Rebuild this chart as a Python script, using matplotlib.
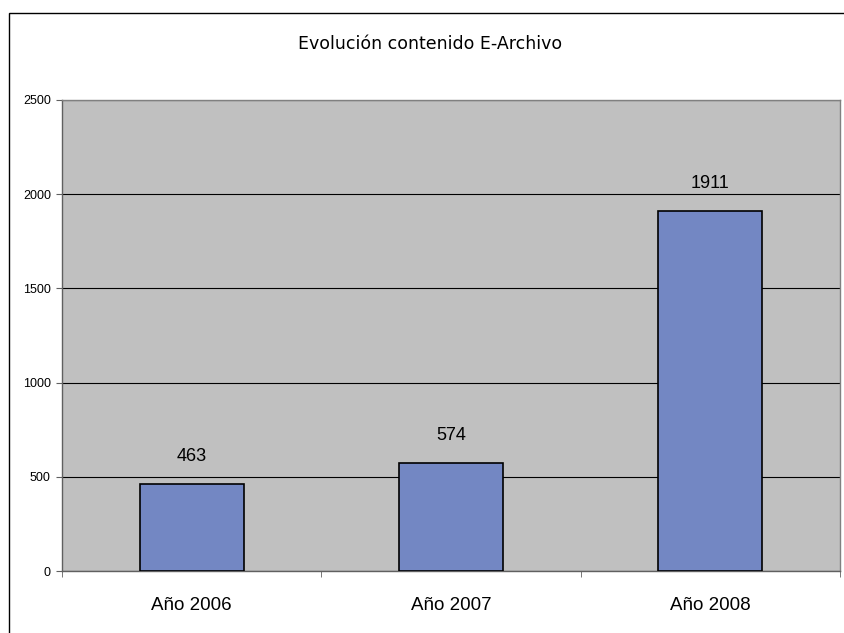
import matplotlib
matplotlib.use("Agg")
import matplotlib.pyplot as plt
from matplotlib.patches import Rectangle

categories = ["Año 2006", "Año 2007", "Año 2008"]
values = [463, 574, 1911]
yticks = [0, 500, 1000, 1500, 2000, 2500]
title = "Evolución contenido E-Archivo"

plt.rcParams['font.family'] = ['Liberation Sans', 'DejaVu Sans']

W, H = 845, 633
fig = plt.figure(figsize=(W/100, H/100), dpi=100)
fig.patch.set_facecolor('white')

# figure border
fig.patches.append(Rectangle((9/W, -0.1), 1.2, (H-13)/H + 0.1, transform=fig.transFigure,
                             fill=False, edgecolor='#000000', linewidth=1.0))

left, right, top, bottom = 62, 840, 100, 571
ax = fig.add_axes([left/W, 1 - bottom/H, (right-left)/W, (bottom-top)/H])
ax.set_facecolor('#C0C0C0')

x = list(range(len(categories)))
ax.bar(x, values, width=0.4, color='#7387C3', edgecolor='black', linewidth=1.2, zorder=3)
for xi, v in zip(x, values):
    ax.annotate(str(v), (xi, v), xytext=(0, 19.5), textcoords='offset points',
                ha='center', va='center', fontsize=13)

ax.set_xlim(-0.5, len(categories) - 0.5)
ax.set_ylim(0, 2500)
ax.set_yticks(yticks)
ax.set_yticklabels([str(t) for t in yticks], fontsize=9)
ax.yaxis.grid(True, color='black', linewidth=0.8, zorder=1)
ax.set_axisbelow(True)

ax.set_xticks(x)
ax.set_xticklabels(categories, fontsize=13.5)
ax.tick_params(axis='x', length=0, pad=19)
ax.set_xticks([i - 0.5 for i in range(len(categories) + 1)], minor=True)
ax.tick_params(axis='x', which='minor', length=4, direction='out', color='#606060')
ax.tick_params(axis='y', length=4, direction='out', color='#606060', pad=4)

for s in ['top', 'right']:
    ax.spines[s].set_color('#808080')
    ax.spines[s].set_linewidth(1.0)
ax.spines['left'].set_color('#606060')
ax.spines['bottom'].set_color('#606060')
ax.spines['left'].set_linewidth(1.0)
ax.spines['bottom'].set_linewidth(1.0)

fig.text(430/W, 1 - 44/H, title, ha='center', va='center', fontsize=12.5,
         family=['DejaVu Sans'])

fig.savefig("out.png", dpi=100)
